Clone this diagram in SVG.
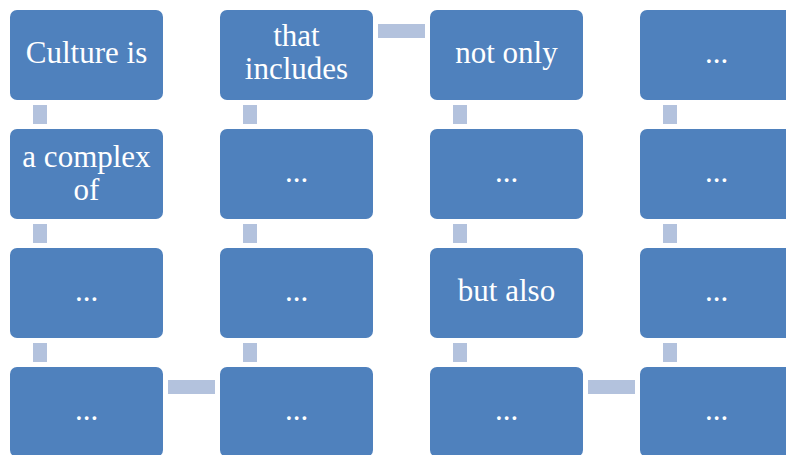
<svg xmlns="http://www.w3.org/2000/svg" width="786" height="455" viewBox="0 0 786 455">
<style>
.box{fill:#4F81BD;}
.con{fill:#B3C2DD;}
text{font-family:"Liberation Serif","Times New Roman",serif;font-size:31px;fill:#FFFFFF;text-anchor:middle;}
</style>
<rect width="786" height="455" fill="#FFFFFF"/>
<g id="connectors">
<rect class="con" x="33" y="105" width="14" height="19"/>
<rect class="con" x="33" y="224" width="14" height="19"/>
<rect class="con" x="33" y="343" width="14" height="19"/>
<rect class="con" x="168" y="380" width="47" height="14"/>
<rect class="con" x="243" y="343" width="14" height="19"/>
<rect class="con" x="243" y="224" width="14" height="19"/>
<rect class="con" x="243" y="105" width="14" height="19"/>
<rect class="con" x="378" y="24" width="47" height="14"/>
<rect class="con" x="453" y="105" width="14" height="19"/>
<rect class="con" x="453" y="224" width="14" height="19"/>
<rect class="con" x="453" y="343" width="14" height="19"/>
<rect class="con" x="588" y="380" width="47" height="14"/>
<rect class="con" x="663" y="343" width="14" height="19"/>
<rect class="con" x="663" y="224" width="14" height="19"/>
<rect class="con" x="663" y="105" width="14" height="19"/>
</g>
<g id="n1"><rect class="box" x="10" y="10" width="153" height="90" rx="7"/><text x="86.5" y="63">Culture is</text></g>
<g id="n2"><rect class="box" x="10" y="129" width="153" height="90" rx="7"/><text x="86.5" y="167">a complex</text><text x="86.5" y="200">of</text></g>
<g id="n3"><rect class="box" x="10" y="248" width="153" height="90" rx="7"/><text x="86.5" y="301">...</text></g>
<g id="n4"><rect class="box" x="10" y="367" width="153" height="90" rx="7"/><text x="86.5" y="420">...</text></g>
<g id="n5"><rect class="box" x="220" y="367" width="153" height="90" rx="7"/><text x="296.5" y="420">...</text></g>
<g id="n6"><rect class="box" x="220" y="248" width="153" height="90" rx="7"/><text x="296.5" y="301">...</text></g>
<g id="n7"><rect class="box" x="220" y="129" width="153" height="90" rx="7"/><text x="296.5" y="182">...</text></g>
<g id="n8"><rect class="box" x="220" y="10" width="153" height="90" rx="7"/><text x="296.5" y="46">that</text><text x="296.5" y="79">includes</text></g>
<g id="n9"><rect class="box" x="430" y="10" width="153" height="90" rx="7"/><text x="506.5" y="63">not only</text></g>
<g id="n10"><rect class="box" x="430" y="129" width="153" height="90" rx="7"/><text x="506.5" y="182">...</text></g>
<g id="n11"><rect class="box" x="430" y="248" width="153" height="90" rx="7"/><text x="506.5" y="301">but also</text></g>
<g id="n12"><rect class="box" x="430" y="367" width="153" height="90" rx="7"/><text x="506.5" y="420">...</text></g>
<g id="n13"><rect class="box" x="640" y="367" width="153" height="90" rx="7"/><text x="716.5" y="420">...</text></g>
<g id="n14"><rect class="box" x="640" y="248" width="153" height="90" rx="7"/><text x="716.5" y="301">...</text></g>
<g id="n15"><rect class="box" x="640" y="129" width="153" height="90" rx="7"/><text x="716.5" y="182">...</text></g>
<g id="n16"><rect class="box" x="640" y="10" width="153" height="90" rx="7"/><text x="716.5" y="63">...</text></g>
</svg>
